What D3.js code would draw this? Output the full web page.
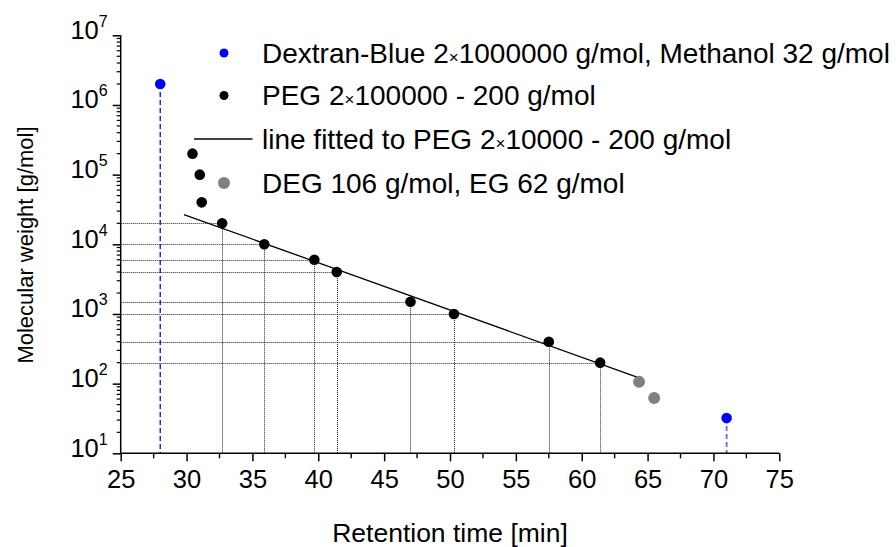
<!DOCTYPE html>
<html>
<head>
<meta charset="utf-8">
<script src="https://cdn.jsdelivr.net/npm/d3@7"></script>
<style>
  html, body { margin: 0; padding: 0; background: #fff; }
  svg { display: block; font-family: "Liberation Sans", Arial, sans-serif; }
</style>
</head>
<body>
<svg id="chart" width="896" height="547"></svg>
<script>
// ---- data ----
const xTicks = [25, 30, 35, 40, 45, 50, 55, 60, 65, 70, 75];
const yExponents = [1, 2, 3, 4, 5, 6, 7];

const dextranTime = [28.0, 71.0];
const dextranMW = [2000000, 32];

const pegTime = [30.45, 31.0, 31.15, 32.7, 35.9, 39.7, 41.4, 47.0, 50.3, 57.5, 61.4];
const pegMW = [200000, 100000, 40000, 20000, 10000, 6000, 4000, 1500, 1000, 400, 200];
const pegCalibrated = [false, false, false, true, true, true, true, true, true, true, true];

const glycolTime = [64.35, 65.5];
const glycolMW = [106, 62];

const fitRange = [29.8, 64.2];
const fitIntercept = 6.449;   // log10(M) = a + b*t
const fitSlope = -0.06785;

const legendLabels = [
  "Dextran-Blue 2×1000000 g/mol, Methanol 32 g/mol",
  "PEG 2×100000 - 200 g/mol",
  "line fitted to PEG 2×10000 - 200 g/mol",
  "DEG 106 g/mol, EG 62 g/mol"
];

// ---- scales ----
const svg = d3.select("#chart");
const x = d3.scaleLinear().domain([25, 75]).range([120.7, 779.3]);
const y = d3.scaleLog().domain([10, 1e7]).range([453.3, 35.3]);
const snap = v => Math.round(v) + 0.5;

const TICKFONT = 25.5;
const LEGENDFONT = 28;

// ---- guide lines (dotted) ----
const guides = svg.append("g");
pegTime.forEach((t, i) => {
  if (!pegCalibrated[i]) return;
  guides.append("line")
    .attr("x1", x(25)).attr("x2", x(t))
    .attr("y1", snap(y(pegMW[i]))).attr("y2", snap(y(pegMW[i])))
    .attr("stroke", "#222").attr("stroke-width", 1).attr("stroke-dasharray", "1,1");
  guides.append("line")
    .attr("x1", snap(x(t))).attr("x2", snap(x(t)))
    .attr("y1", y(pegMW[i])).attr("y2", y(10))
    .attr("stroke", "#222").attr("stroke-width", 1).attr("stroke-dasharray", "1,1");
});

// dextran / methanol dashed drops
dextranTime.forEach((t, i) => {
  guides.append("line")
    .attr("x1", x(t)).attr("x2", x(t))
    .attr("y1", y(dextranMW[i])).attr("y2", y(10))
    .attr("stroke", i === 0 ? "#0000ff" : "#6666ff")
    .attr("stroke-width", i === 0 ? 1.3 : 1.8)
    .attr("stroke-dasharray", "5,3");
});

// ---- fit line ----
svg.append("line")
  .attr("x1", x(fitRange[0])).attr("y1", y(Math.pow(10, fitIntercept + fitSlope * fitRange[0])))
  .attr("x2", x(fitRange[1])).attr("y2", y(Math.pow(10, fitIntercept + fitSlope * fitRange[1])))
  .attr("stroke", "#000").attr("stroke-width", 1.3);

// ---- points ----
svg.append("g").selectAll("circle").data(pegTime).join("circle")
  .attr("cx", d => x(d)).attr("cy", (d, i) => y(pegMW[i])).attr("r", 5.3).attr("fill", "#000");
svg.append("g").selectAll("circle").data(dextranTime).join("circle")
  .attr("cx", d => x(d)).attr("cy", (d, i) => y(dextranMW[i])).attr("r", 5.3).attr("fill", "#0000ff");
svg.append("g").selectAll("circle").data(glycolTime).join("circle")
  .attr("cx", d => x(d)).attr("cy", (d, i) => y(glycolMW[i])).attr("r", 6).attr("fill", "#808080");

// ---- axes ----
const xAxis = svg.append("g").attr("transform", `translate(0,${y(10)})`);
xAxis.call(d3.axisBottom(x).tickValues(xTicks).tickSize(8).tickFormat(""));
const xMinor = d3.range(27.5, 75, 5);
xAxis.call(g => g.selectAll(".minor").data(xMinor).join("line").attr("class", "minor")
  .attr("x1", d => x(d)).attr("x2", d => x(d)).attr("y1", 0).attr("y2", 5)
  .attr("stroke", "#000").attr("stroke-width", 1.4));
xAxis.selectAll("path.domain").attr("d", `M${x(25)},0H${x(75)}`).attr("stroke-width", 1.5);
xAxis.selectAll(".tick line").attr("stroke-width", 1.5);
xAxis.selectAll(".tick").append("text")
  .attr("y", 34.5).attr("fill", "#000").attr("text-anchor", "middle")
  .style("font-size", TICKFONT + "px").style("font-family", "'Liberation Sans', Arial, sans-serif")
  .text(d => d);

const yAxis = svg.append("g").attr("transform", `translate(${x(25)},0)`);
const yMajor = yExponents.map(e => Math.pow(10, e));
yAxis.call(d3.axisLeft(y).tickValues(yMajor).tickSize(8).tickFormat(""));
const yMinor = [];
yExponents.slice(0, -1).forEach(e => { for (let k = 2; k <= 9; k++) yMinor.push(k * Math.pow(10, e)); });
yAxis.call(g => g.selectAll(".minor").data(yMinor).join("line").attr("class", "minor")
  .attr("y1", d => y(d)).attr("y2", d => y(d)).attr("x1", 0).attr("x2", -4)
  .attr("stroke", "#000").attr("stroke-width", 1.2));
yAxis.selectAll("path.domain").attr("d", `M0,${y(10)}V${y(1e7)}`).attr("stroke-width", 1.5);
yAxis.selectAll(".tick line").attr("stroke-width", 1.5);
yAxis.selectAll(".tick").each(function(d) {
  const t = d3.select(this).append("text")
    .attr("x", -13).attr("y", 2.7).attr("fill", "#000").attr("text-anchor", "end")
    .style("font-size", TICKFONT + "px").style("font-family", "'Liberation Sans', Arial, sans-serif");
  t.append("tspan").text("10");
  t.append("tspan").attr("dy", -12).style("font-size", "16px").text(Math.round(Math.log10(d)));
});

// ---- axis titles ----
svg.append("text")
  .attr("x", 450).attr("y", 542).attr("text-anchor", "middle")
  .style("font-size", "26.5px").text("Retention time [min]");
svg.append("text")
  .attr("transform", "translate(33,245) rotate(-90)").attr("text-anchor", "middle")
  .style("font-size", "22px").text("Molecular weight [g/mol]");

// ---- legend ----
const legend = svg.append("g");
const rowY = [53, 95.5, 139, 183];
function addLabel(i) {
  const txt = legend.append("text").attr("x", 262).attr("y", rowY[i] + 9.5)
    .style("font-size", LEGENDFONT + "px");
  const parts = legendLabels[i].split("×");
  parts.forEach((p, j) => {
    if (j > 0) txt.append("tspan").style("font-size", "17px").text("×");
    txt.append("tspan").text(p);
  });
}
legend.append("circle").attr("cx", 224).attr("cy", rowY[0]).attr("r", 4.5).attr("fill", "#0000ff");
legend.append("circle").attr("cx", 224).attr("cy", rowY[1]).attr("r", 4.5).attr("fill", "#000");
legend.append("line").attr("x1", 194).attr("x2", 252.5).attr("y1", rowY[2]).attr("y2", rowY[2])
  .attr("stroke", "#000").attr("stroke-width", 1.3);
legend.append("circle").attr("cx", 224).attr("cy", rowY[3]).attr("r", 6).attr("fill", "#808080");
legendLabels.forEach((_, i) => addLabel(i));
</script>
</body>
</html>
